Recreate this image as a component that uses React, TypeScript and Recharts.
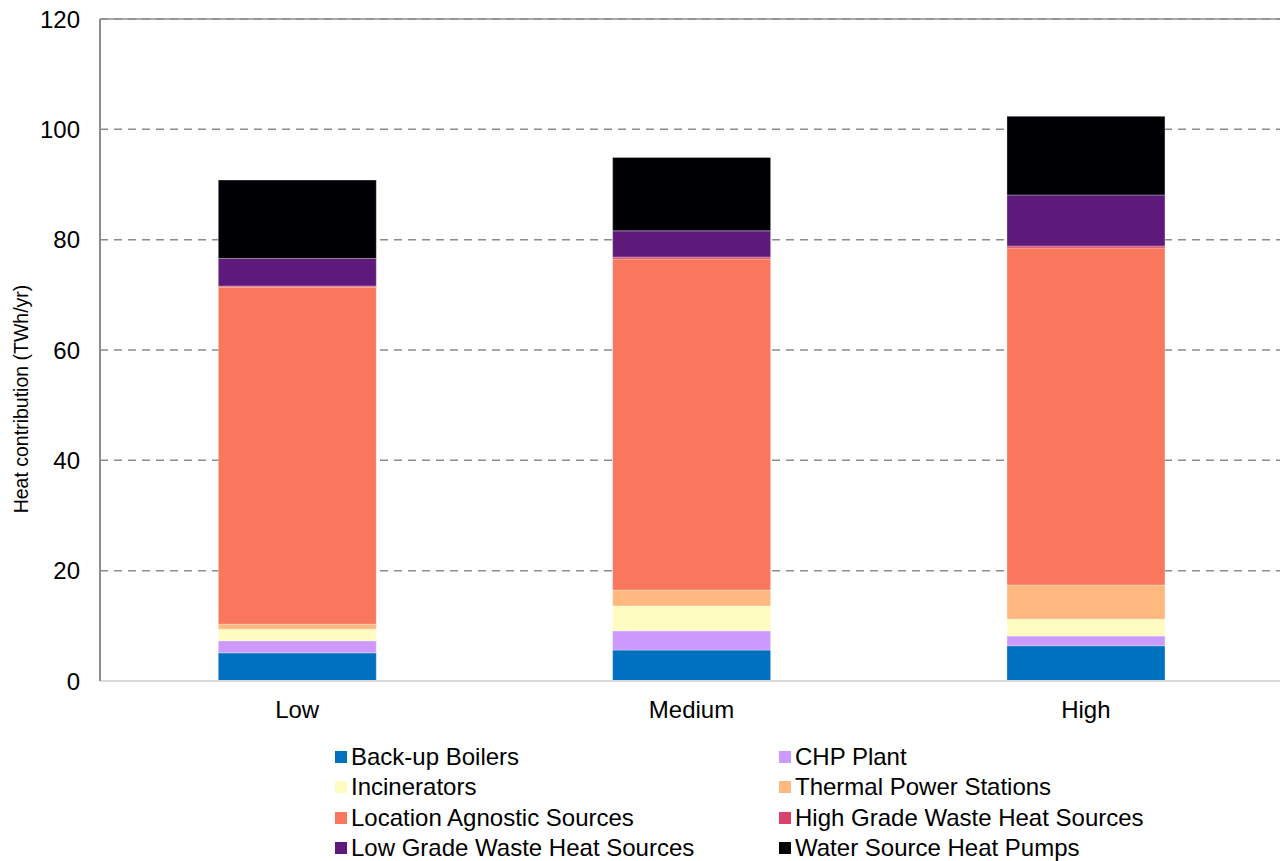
import { BarChart, Bar, XAxis, YAxis, CartesianGrid, Legend, ReferenceLine, Label } from 'recharts';

const FONT = '"Liberation Sans", Arial, sans-serif';

const categories = ['Low', 'Medium', 'High'];
const yTicks = [0, 20, 40, 60, 80, 100, 120];

// TWh/yr per source, one value per scenario (Low, Medium, High)
const backupBoilers = [5.1, 5.6, 6.4];
const chpPlant = [2.2, 3.5, 1.75];
const incinerators = [2.1, 4.5, 3.05];
const thermalPower = [0.9, 2.9, 6.2];
const locationAgnostic = [61.1, 60.0, 61.1];
const highGradeWaste = [0.2, 0.35, 0.35];
const lowGradeWaste = [5.0, 4.75, 9.25];
const waterSourceHP = [14.2, 13.3, 14.25];

const SERIES = [
  { key: 'boilers', name: 'Back-up Boilers', color: '#0070C0', values: backupBoilers },
  { key: 'chp', name: 'CHP Plant', color: '#CC99FF', values: chpPlant },
  { key: 'incin', name: 'Incinerators', color: '#FEFCC0', values: incinerators },
  { key: 'thermal', name: 'Thermal Power Stations', color: '#FFB97F', values: thermalPower },
  { key: 'las', name: 'Location Agnostic Sources', color: '#F9775C', values: locationAgnostic },
  { key: 'hg', name: 'High Grade Waste Heat Sources', color: '#D9426C', values: highGradeWaste },
  { key: 'lg', name: 'Low Grade Waste Heat Sources', color: '#5E1A7B', values: lowGradeWaste },
  { key: 'wshp', name: 'Water Source Heat Pumps', color: '#000004', values: waterSourceHP },
];

const data = categories.map((name, i) => {
  const row: any = { name };
  SERIES.forEach((s) => {
    row[s.key] = s.values[i];
  });
  return row;
});

function LegendGrid() {
  return (
    <div
      style={{
        display: 'grid',
        gridTemplateColumns: '444px 444px',
        paddingLeft: 335,
        paddingTop: 11,
        fontFamily: FONT,
        fontSize: 24,
        color: '#000',
      }}
    >
      {SERIES.map((s) => (
        <div key={s.key} style={{ display: 'flex', alignItems: 'center', height: 30.3, whiteSpace: 'nowrap' }}>
          <span style={{ width: 12, height: 12, background: s.color, marginRight: 4, display: 'inline-block' }} />
          <span>{s.name}</span>
        </div>
      ))}
    </div>
  );
}

export default function App() {
  return (
    <div style={{ position: 'absolute', left: 0, top: 0, width: 1280, height: 861, overflow: 'hidden', background: '#fff' }}>
      <BarChart
        width={1284}
        height={861}
        data={data}
        margin={{ top: 19, right: 1, bottom: 0, left: 0 }}
        barCategoryGap="30%"
      >
        <CartesianGrid vertical={false} stroke="#8c8c8c" strokeWidth={1.5} strokeDasharray="8 6" />
        <ReferenceLine y={120} stroke="#8c8c8c" strokeWidth={1.5} />
        <XAxis
          dataKey="name"
          height={50}
          tickLine={false}
          tickSize={0}
          tickMargin={20}
          axisLine={{ stroke: '#d9d9d9', strokeWidth: 2 }}
          tick={{ fill: '#000', fontSize: 24, fontFamily: FONT }}
        />
        <YAxis
          width={100}
          domain={[0, 120]}
          ticks={yTicks}
          interval={0}
          tickLine={false}
          tickSize={0}
          tickMargin={20}
          axisLine={{ stroke: '#8c8c8c', strokeWidth: 2 }}
          tick={{ fill: '#000', fontSize: 24, fontFamily: FONT }}
        >
          <Label
            content={() => (
              <text
                x={21}
                y={399}
                transform="rotate(-90 21 399)"
                textAnchor="middle"
                dominantBaseline="central"
                style={{ fontFamily: FONT, fontSize: 19.5, fill: '#000' }}
              >
                Heat contribution (TWh/yr)
              </text>
            )}
          />
        </YAxis>
        <Legend
          verticalAlign="bottom"
          height={130}
          wrapperStyle={{ left: 0, width: 1280 }}
          content={() => <LegendGrid />}
        />
        {SERIES.map((s) => (
          <Bar
            key={s.key}
            dataKey={s.key}
            name={s.name}
            stackId="a"
            fill={s.color}
            stroke="rgba(255,255,255,0.3)"
            strokeWidth={1}
            isAnimationActive={false}
          />
        ))}
      </BarChart>
    </div>
  );
}
